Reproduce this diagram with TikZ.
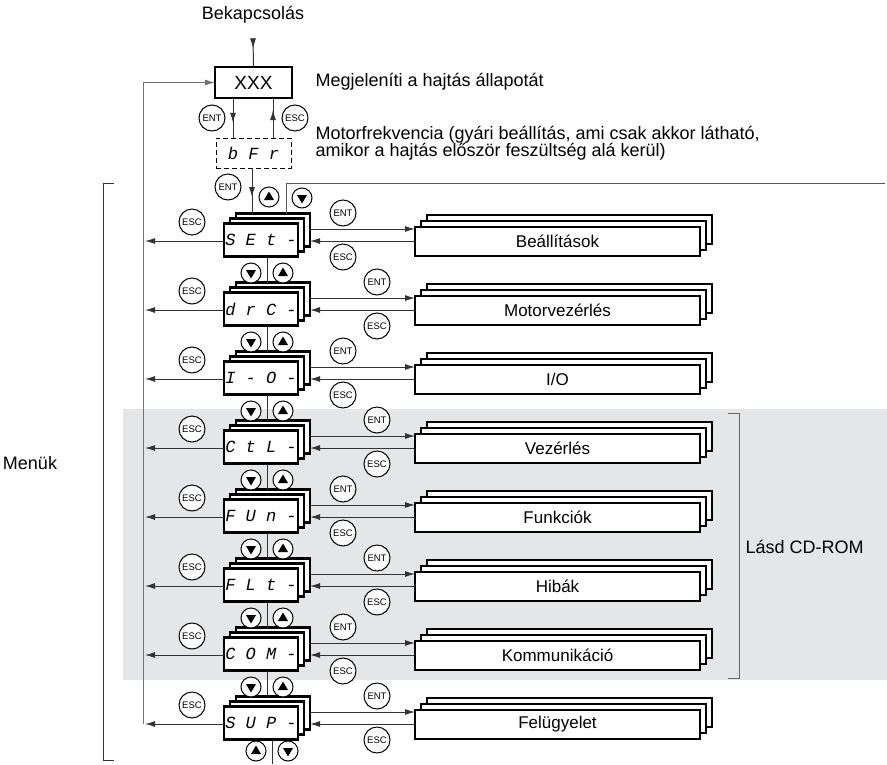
\documentclass[tikz,border=0pt]{standalone}
\usepackage{fontspec}
\setmainfont{Liberation Sans}
\newfontfamily\segfont{Liberation Mono}
\usetikzlibrary{arrows.meta,decorations.markings}
\definecolor{panel}{RGB}{229,230,232}
\tikzset{
  menu/.style={draw, line width=2.5pt, fill=white, minimum width=74pt, minimum height=33pt, inner sep=0pt, outer sep=0pt},
  sub/.style={draw, line width=2.5pt, fill=white, minimum width=285pt, minimum height=29pt, inner sep=0pt, outer sep=0pt, font=\fontsize{17}{20}\selectfont},
  btn/.style={circle, draw, line width=1pt, fill=white, minimum size=26pt, inner sep=0pt, font=\fontsize{9.5}{10}\selectfont},
  arr/.style={-{Latex[length=10pt,width=6pt]}},
  link/.style={line width=1pt, black!80},
  midtip/.style={postaction={decorate}, decoration={markings, mark=at position #1 with {\arrow{Latex[length=10pt,width=6pt]}}}},
  upbtn/.pic={\draw[line width=1pt, fill=white] (0,0) circle (10pt); \fill (0,-5.5) -- (5,3) -- (-5,3) -- cycle;},
  downbtn/.pic={\draw[line width=1pt, fill=white] (0,0) circle (10pt); \fill (0,5.5) -- (5,-3) -- (-5,-3) -- cycle;}
}
\begin{document}
\begin{tikzpicture}[x=1pt, y=-1pt, font=\fontsize{18}{17.5}\selectfont]
  \useasboundingbox (0,0) rectangle (887,764);

  % Shaded block
  \fill[panel] (123,409) rectangle (887,680);

  % Power on and status
  \node (bek) at (253,15) {Bekapcsolás};
  \node[draw, line width=2.6pt, minimum width=77pt, minimum height=31pt, inner sep=0pt, outer sep=0pt, font=\fontsize{19}{20}\selectfont] (xxx) at (253.5,82.5) {XXX};
  \node[anchor=west] (stat) at (312,82) {Megjeleníti a hajtás állapotát};
  \node[draw, dash pattern=on 5pt off 3pt, line width=0.9pt, minimum width=75pt, minimum height=30pt, inner sep=0pt, outer sep=0pt, font=\segfont\itshape\fontsize{17}{17}\selectfont] (bfr) at (253.5,153) {b F r};
  \node[anchor=west, align=left] (freq) at (312,143) {Motorfrekvencia (gyári beállítás, ami csak akkor látható,\\amikor a hajtás először feszültség alá kerül)};

  % Menu rows
  \foreach \code/\lab [count=\i from 0] in {S E t -/Beállítások, d r C -/Motorvezérlés, I - O -/{I/O}, C t L -/Vezérlés, F U n -/Funkciók, F L t -/Hibák, C O M -/Kommunikáció, S U P -/Felügyelet}{
    \pgfmathsetmacro\yy{240+69*\i}
    \pgfmathsetmacro\ya{\yy-11}
    \pgfmathsetmacro\yb{\yy+1}
    \pgfmathsetmacro\xe{343+34*mod(\i,2)}
    \node[menu] (mc\i) at (273,\yy-10) {};
    \node[menu] (mb\i) at (267,\yy-5) {};
    \node[menu, font=\segfont\itshape\fontsize{17}{17}\selectfont] (m\i) at (261,\yy) {\code};
    \node[sub] (sc\i) at (569.5,\yy-10.5) {};
    \node[sub] (sb\i) at (563.5,\yy-4.5) {};
    \node[sub] (s\i) at (557.5,\yy+1.5) {\lab};
    \coordinate (esc\i) at (145,\yb);
    \draw[link, arr] (mc\i.east |- 0,\ya) -- (s\i.west |- 0,\ya);
    \draw[link, arr] (s\i.west |- 0,\yb) -- (mc\i.east |- 0,\yb);
    \draw[link, arr] (m\i.west |- 0,\yb) -- (esc\i);
    \node[btn] (escl\i) at (192,\yy-18) {ESC};
    \node[btn] (ent\i) at (\xe,\yy-27) {ENT};
    \node[btn] (escr\i) at (\xe,\yy+17) {ESC};
  }

  % Links between menus
  \foreach \i [evaluate=\i as \j using int(\i+1)] in {0,...,6}{
    \pgfmathsetmacro\yn{240+69*\i+33}
    \draw[link] (m\i.south -| 267,0) -- (mc\j.north -| 267,0);
    \pic at (251,\yn) {downbtn};
    \pic at (283,\yn) {upbtn};
  }

  % Entry arrows
  \coordinate (on) at (253,38);
  \draw[link, midtip=0.36] (on) -- (xxx.north);
  \draw[link, midtip=0.62] (xxx.south -| 233,0) -- (bfr.north -| 233,0);
  \draw[link, midtip=0.7] (bfr.north -| 273,0) -- (xxx.south -| 273,0);
  \draw[link, midtip=0.64] (bfr.south -| 252,0) -- (mc0.north -| 252,0);
  \node[btn] (entA) at (212,118) {ENT};
  \node[btn] (escA) at (295,118) {ESC};
  \node[btn] (entB) at (228,187) {ENT};
  \pic at (269,197) {upbtn};
  \pic at (302,198) {downbtn};

  % Loops
  \coordinate (loopb) at (143,724);
  \coordinate (loopr) at (885,183);
  \coordinate (loopd) at (272,764);
  \draw[link, black!55, arr] (loopb) |- (xxx.west);
  \draw[link, black!65] (mc0.north -| 286,0) |- (loopr);
  \draw[link] (m7.south -| 272,0) -- (loopd);
  \pic at (256,751) {upbtn};
  \pic at (288,751) {downbtn};

  % Brackets
  \draw[line width=1pt, black!80] (114,183) -| (103,760) -- (114,760);
  \node (menuk) at (30,463) {Menük};
  \draw[line width=1pt, black!60] (728,413) -| (739,678) -- (728,678);
  \node[anchor=west] (cdrom) at (742,547) {Lásd CD-ROM};
\end{tikzpicture}
\end{document}
